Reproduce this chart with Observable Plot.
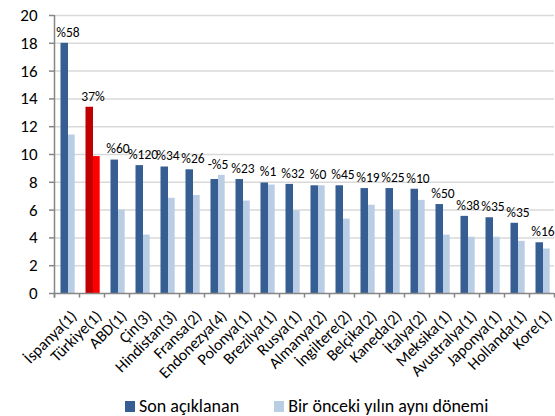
<!DOCTYPE html>
<html><head><meta charset="utf-8">
<script src="https://cdn.jsdelivr.net/npm/d3@7"></script>
<script src="https://cdn.jsdelivr.net/npm/@observablehq/plot@0.6"></script>
<style>
html,body{margin:0;padding:0;background:#fff;}
body{width:555px;height:416px;overflow:hidden;font-family:Carlito,Lato,sans-serif;}
#legend{display:flex;align-items:center;height:20px;margin-left:125px;font-size:18px;color:#000;}
#legend .sw{width:10px;height:11px;display:inline-block;margin-right:4px;}
#legend .item{display:flex;align-items:center;margin-right:35px;}
</style></head><body>
<div id="chart"></div>
<div id="legend"></div>
<script>
const countries = ["İspanya(1)","Türkiye(1)","ABD(1)","Çin(3)","Hindistan(3)","Fransa(2)","Endonezya(4)","Polonya(1)","Brezilya(1)","Rusya(1)","Almanya(2)","İngiltere(2)","Belçika(2)","Kaneda(2)","İtalya(2)","Meksika(1)","Avustralya(1)","Japonya(1)","Hollanda(1)","Kore(1)"];
const latest = [18.0,13.4,9.6,9.2,9.1,8.9,8.2,8.2,7.95,7.85,7.75,7.75,7.55,7.55,7.5,6.4,5.55,5.45,5.05,3.65];
const previous = [11.4,9.85,6.0,4.2,6.85,7.05,8.5,6.65,7.8,5.95,7.75,5.35,6.35,6.0,6.7,4.2,4.05,4.05,3.75,3.2];
const changeLabels = ["%58","37%","%60","%120","%34","%26","-%5","%23","%1","%32","%0","%45","%19","%25","%10","%50","%38","%35","%35","%16"];
const seriesNames = ["Son açıklanan","Bir önceki yılın aynı dönemi"];
const yTicks = [0,2,4,6,8,10,12,14,16,18,20];
const highlightCountry = "Türkiye(1)";

const colors = {dark:"#375E92", light:"#B9CDE5", hiDark:"#C00000", hiLight:"#FF0000", grid:"#D9D9D9", axis:"#868686"};

const rows = countries.map((c,i)=>({country:c, latest:latest[i], previous:previous[i], label:changeLabels[i], highlight:c===highlightCountry}));

const W = 555, H = 396, mL = 54, mR = 1, mT = 15, mB = 103;
const half = (W - mL - mR) / countries.length / 2;

const chart = Plot.plot({
  width: W, height: H,
  marginLeft: mL, marginRight: mR, marginTop: mT, marginBottom: mB,
  style: {fontFamily: "Carlito, Lato, sans-serif", fontSize: "16px", color: "#000", background: "#fff", overflow: "visible"},
  x: {domain: countries, padding: 0, tickSize: 0, tickRotate: -45, tickPadding: 5, label: null},
  y: {domain: [0, 20], ticks: yTicks, tickSize: 5, tickPadding: 12, label: null},
  color: {type: "identity"},
  marks: [
    Plot.ruleY(yTicks.filter(d => d > 0), {stroke: colors.grid, strokeWidth: 1.5}),
    Plot.barY(rows, {x: "country", y: "latest", fill: d => d.highlight ? colors.hiDark : colors.dark, insetLeft: 6.5, insetRight: 11}),
    Plot.barY(rows, {x: "country", y: "previous", fill: d => d.highlight ? colors.hiLight : colors.light, insetLeft: 14, insetRight: 4.3}),
    Plot.ruleY([0], {stroke: colors.axis, strokeWidth: 1.5}),
    Plot.ruleX(countries, {x: d => d, dx: -half, y1: 0, y2: -0.33, stroke: colors.axis, strokeWidth: 1.5}),
    Plot.ruleX([countries[countries.length - 1]], {x: d => d, dx: half, y1: 0, y2: -0.33, stroke: colors.axis, strokeWidth: 1.5}),
    Plot.ruleX([countries[0]], {x: d => d, dx: -half, y1: -0.33, y2: 20, stroke: colors.axis, strokeWidth: 1.5}),
    Plot.text(rows, {x: "country", y: d => Math.max(d.latest, d.previous), text: "label", dy: -11, dx: 1, fontSize: 13.5, lineAnchor: "middle", fill: "#000"})
  ]
});
document.getElementById("chart").appendChild(chart);
const svg = d3.select(chart);
svg.selectAll('[aria-label="y-axis tick"]').attr("stroke", colors.axis).attr("stroke-width", 1.5);
svg.selectAll('[aria-label="y-axis tick label"]').attr("font-size", 17);
svg.selectAll('[aria-label="x-axis tick label"]').each(function() {
  const g = d3.select(this);
  const t = g.attr("transform") || "";
  g.attr("transform", t + " translate(7,15)");
});

const legend = d3.select("#legend");
[[seriesNames[0], colors.dark], [seriesNames[1], colors.light]].forEach(([name, col]) => {
  const it = legend.append("div").attr("class", "item");
  it.append("span").attr("class", "sw").style("background", col);
  it.append("span").text(name);
});
</script>
</body></html>
